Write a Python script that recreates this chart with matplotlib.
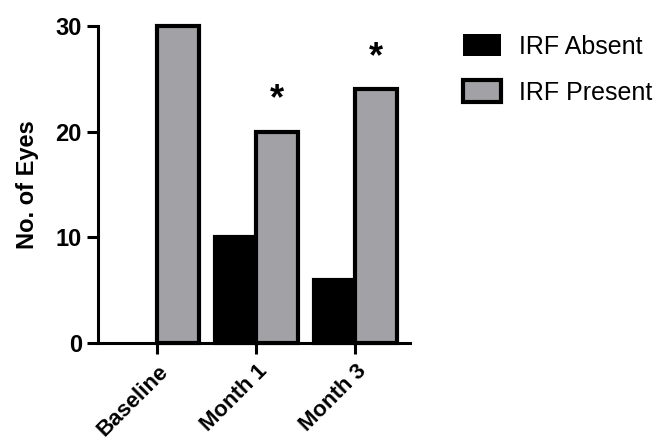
import matplotlib.pyplot as plt
import numpy as np

plt.rcParams['font.family'] = ['Liberation Sans', 'DejaVu Sans']

categories = ['Baseline', 'Month 1', 'Month 3']
irf_absent = [0, 10, 6]
irf_present = [30, 20, 24]
significant = [False, True, True]

fig = plt.figure(figsize=(6.57, 4.43), dpi=100)
ax = fig.add_axes([0.149, 0.226, 0.475, 0.715])

x = np.arange(len(categories))
w = 0.42
bars_a = ax.bar(x - w / 2, irf_absent, w, color='black', edgecolor='black',
                linewidth=3, label='IRF Absent')
bars_p = ax.bar(x + w / 2, irf_present, w, color='#a2a1a6', edgecolor='black',
                linewidth=3, label='IRF Present')
for b, v in zip(bars_a, irf_absent):
    if v == 0:
        b.set_linewidth(0)

for xi, val, sig in zip(x, irf_present, significant):
    if sig:
        ax.text(xi + w / 2, val + 1.4, '*', ha='center', va='bottom',
                fontsize=26, fontweight='bold')

ax.set_xlim(-0.6, 2.55)
ax.set_ylim(0, 30)
ax.set_yticks([0, 10, 20, 30])
ax.set_xticks(x)
ax.set_xticklabels(categories, rotation=45, ha='right', rotation_mode='anchor',
                   fontsize=16, fontweight='bold')
ax.tick_params(axis='y', labelsize=17)
for lab in ax.get_yticklabels():
    lab.set_fontweight('bold')
ax.set_ylabel('No. of Eyes', fontsize=17, fontweight='bold', labelpad=12)

ax.spines['top'].set_visible(False)
ax.spines['right'].set_visible(False)
ax.spines['left'].set_linewidth(2.2)
ax.spines['bottom'].set_linewidth(2.2)
ax.tick_params(width=2.2, length=8)
ax.tick_params(axis='x', pad=5)
for p in ax.patches:
    p.set_clip_on(False)

leg = ax.legend(loc='upper left', bbox_to_anchor=(1.17, 0.975), frameon=False,
                fontsize=18, handlelength=1.52, handleheight=1.0,
                labelspacing=0.85, handletextpad=0.72, borderpad=0,
                borderaxespad=0)

fig.savefig('out.png', dpi=100)
